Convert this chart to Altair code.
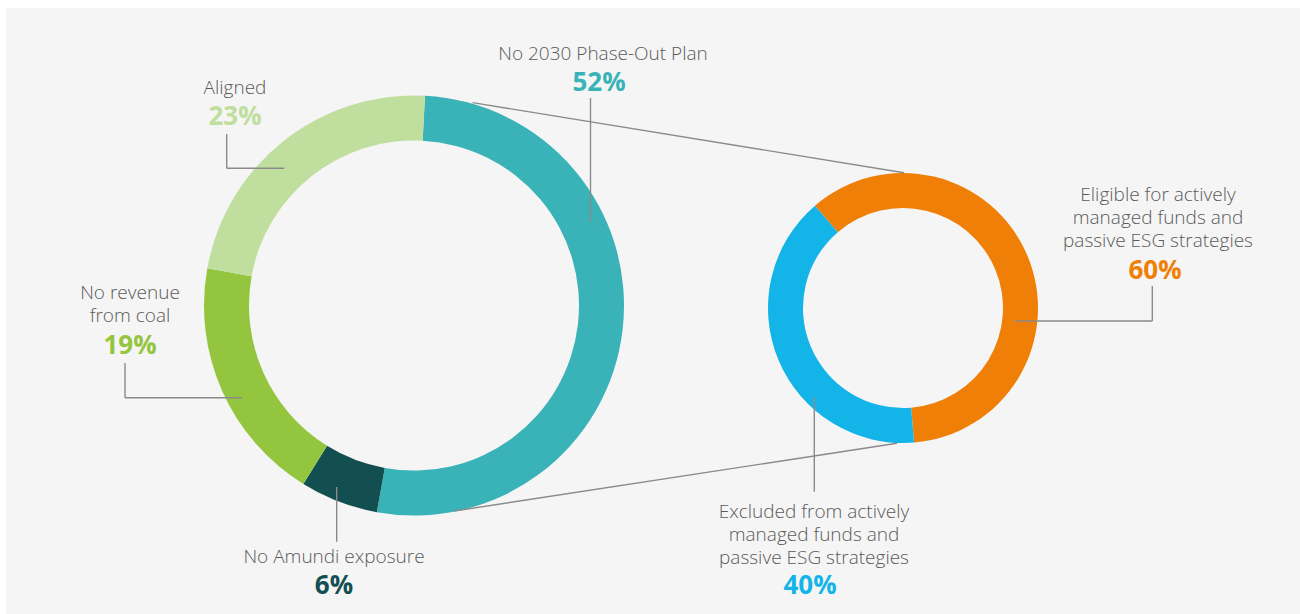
import math
import altair as alt
import pandas as pd

# ---- data ----
big_labels = ["No 2030 Phase-Out Plan", "No Amundi exposure", "No revenue from coal", "Aligned"]
big_values = [52, 6, 19, 23]
big_colors = ["#39b3b7", "#134f51", "#93c63e", "#c0df9e"]

small_labels = ["Eligible for actively managed funds and passive ESG strategies",
                "Excluded from actively managed funds and passive ESG strategies"]
small_values = [60, 40]
small_colors = ["#ef7f06", "#13b4e7"]

# ---- layout ----
W, H = 1300, 614
BIG_C = (414, 305.5)
BIG_R = (165, 210)
BIG_START = math.radians(3)
SMALL_C = (903, 308)
SMALL_R = (100, 135)
SMALL_START = math.radians(-40.7) + 2 * math.pi
FONT = "Open Sans"
LINE = "#8a8a8a"
TXT = "#5a5a5a"

big_df = pd.DataFrame({"label": big_labels, "value": big_values, "order": range(len(big_labels))})
small_df = pd.DataFrame({"label": small_labels, "value": small_values, "order": range(len(small_labels))})

panel = alt.Chart(pd.DataFrame({"a": [0]})).mark_rect(color="#f5f5f5").encode(
    x=alt.value(6), x2=alt.value(W), y=alt.value(8), y2=alt.value(H))

big = alt.Chart(big_df).mark_arc(innerRadius=BIG_R[0], outerRadius=BIG_R[1]).encode(
    theta=alt.Theta("value:Q", stack=True,
                    scale=alt.Scale(range=[BIG_START, BIG_START + 2 * math.pi])),
    color=alt.Color("label:N", scale=alt.Scale(domain=big_labels, range=big_colors), legend=None),
    order=alt.Order("order:Q"),
    x=alt.value(BIG_C[0]), y=alt.value(BIG_C[1]))

small = alt.Chart(small_df).mark_arc(innerRadius=SMALL_R[0], outerRadius=SMALL_R[1]).encode(
    theta=alt.Theta("value:Q", stack=True,
                    scale=alt.Scale(range=[SMALL_START, SMALL_START + 2 * math.pi])),
    color=alt.Color("label:N", scale=alt.Scale(domain=small_labels, range=small_colors), legend=None),
    order=alt.Order("order:Q"),
    x=alt.value(SMALL_C[0]), y=alt.value(SMALL_C[1]))

# leader / connector segments (annotation layout)
segs = pd.DataFrame([
    (472.6, 102.6, 904, 172.7),   # upper connector
    (454.4, 511, 897, 443.3),     # lower connector
    (590.5, 98, 590.5, 222),      # 52%
    (226.7, 134, 226.7, 168.3),   # 23% vertical
    (226.7, 168.3, 284.3, 168.3), # 23% horizontal
    (125, 363, 125, 397.7),       # 19% vertical
    (125, 397.7, 241.7, 397.7),   # 19% horizontal
    (336.7, 487, 336.7, 541.7),   # 6%
    (1015, 321, 1152.3, 321),     # 60% horizontal
    (1152.3, 286, 1152.3, 321),   # 60% vertical
    (814.3, 396.7, 814.3, 491.7), # 40%
], columns=["x", "y", "x2", "y2"])

lines = alt.Chart(segs).mark_rule(color=LINE, strokeWidth=1.4).encode(
    x=alt.X("x:Q", scale=None, axis=None), y=alt.Y("y:Q", scale=None, axis=None),
    x2="x2:Q", y2="y2:Q")

pct = lambda v: f"{v}%"
texts = pd.DataFrame([
    ("No 2030 Phase-Out Plan", 603, 54, TXT, "label"),
    (pct(big_values[0]), 599, 83, big_colors[0], "pct"),
    ("Aligned", 235, 88, TXT, "label"),
    (pct(big_values[3]), 235, 117, big_colors[3], "pct"),
    ("No revenue\nfrom coal", 130, 293, TXT, "label"),
    (pct(big_values[2]), 130, 346, big_colors[2], "pct"),
    ("No Amundi exposure", 334, 557, TXT, "label"),
    (pct(big_values[1]), 334, 586, big_colors[1], "pct"),
    ("Eligible for actively\nmanaged funds and\npassive ESG strategies", 1158, 195, TXT, "label"),
    (pct(small_values[0]), 1155, 271, small_colors[0], "pct"),
    ("Excluded from actively\nmanaged funds and\npassive ESG strategies", 814, 512, TXT, "label"),
    (pct(small_values[1]), 810, 586, small_colors[1], "pct"),
], columns=["text", "x", "y", "color", "kind"])

lbl = alt.Chart(texts[texts.kind == "label"]).mark_text(
    font=FONT, fontSize=19, fontWeight=300, align="center", baseline="middle",
    lineBreak="\n", lineHeight=23).encode(
    x=alt.X("x:Q", scale=None, axis=None), y=alt.Y("y:Q", scale=None, axis=None),
    text="text:N", color=alt.Color("color:N", scale=None))

pcts = alt.Chart(texts[texts.kind == "pct"]).mark_text(
    font=FONT, fontSize=26, fontWeight=700, align="center", baseline="middle").encode(
    x=alt.X("x:Q", scale=None, axis=None), y=alt.Y("y:Q", scale=None, axis=None),
    text="text:N", color=alt.Color("color:N", scale=None))

chart = alt.layer(panel, big, small, lines, lbl, pcts).resolve_scale(
    theta="independent", color="independent").properties(
    width=W, height=H, autosize=alt.AutoSizeParams(type="none"), padding=0,
    background="white").configure_view(stroke=None)

chart.save("out.html", embed_options={"renderer": "svg", "actions": False})
